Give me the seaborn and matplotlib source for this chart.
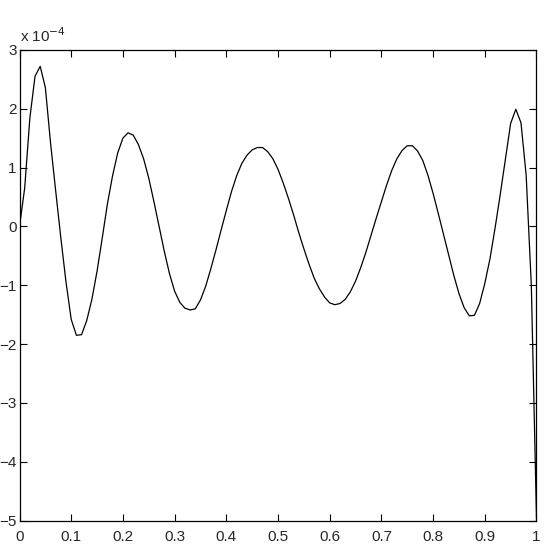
import numpy as np
import pandas as pd
import matplotlib
matplotlib.use("Agg")
import matplotlib.pyplot as plt
import seaborn as sns

# error curve, y in units of 1e-4
x_vals = [round(0.01 * i, 2) for i in range(101)]
err_vals = [
    0.00, 0.65, 1.84, 2.55, 2.72, 2.36, 1.42, 0.60, -0.20, -0.95,
    -1.58, -1.85, -1.84, -1.60, -1.24, -0.76, -0.20, 0.38, 0.86, 1.25,
    1.50, 1.59, 1.55, 1.39, 1.15, 0.82, 0.42, 0.00, -0.42, -0.80,
    -1.10, -1.29, -1.39, -1.42, -1.40, -1.25, -1.02, -0.72, -0.40, -0.06,
    0.27, 0.59, 0.86, 1.07, 1.21, 1.30, 1.34, 1.34, 1.27, 1.15,
    0.97, 0.74, 0.48, 0.20, -0.10, -0.38, -0.64, -0.88, -1.06, -1.20,
    -1.30, -1.33, -1.31, -1.24, -1.11, -0.93, -0.70, -0.44, -0.15, 0.14,
    0.42, 0.70, 0.95, 1.15, 1.29, 1.37, 1.37, 1.28, 1.12, 0.87,
    0.56, 0.22, -0.13, -0.48, -0.83, -1.14, -1.38, -1.52, -1.51, -1.31,
    -0.97, -0.55, -0.02, 0.55, 1.15, 1.75, 1.99, 1.76, 0.87, -1.00,
    -4.95,
]
x_ticks = [0, 0.1, 0.2, 0.3, 0.4, 0.5, 0.6, 0.7, 0.8, 0.9, 1]
x_ticklabels = ["0", "0.1", "0.2", "0.3", "0.4", "0.5", "0.6", "0.7", "0.8", "0.9", "1"]
y_ticks = [-5, -4, -3, -2, -1, 0, 1, 2, 3]

sns.set_style("ticks")
plt.rcParams['font.family'] = ['Liberation Sans', 'DejaVu Sans']
plt.rcParams['xtick.direction'] = 'in'
plt.rcParams['ytick.direction'] = 'in'

df = pd.DataFrame({'x': x_vals, 'err': err_vals})

fig = plt.figure(figsize=(5.45, 5.45), dpi=100)
ax = fig.add_axes([0.0358, 0.0446, 0.9486, 0.864])
sns.lineplot(data=df, x='x', y='err', color='black', linewidth=0.9, ax=ax)

ax.set_xlim(0, 1)
ax.set_ylim(-5, 3)
ax.set_xticks(x_ticks)
ax.set_xticklabels(x_ticklabels)
ax.set_yticks(y_ticks)
ax.set_xlabel('')
ax.set_ylabel('')
ax.tick_params(axis='both', which='both', labelsize=11, length=5, width=0.8,
               top=True, right=True, color='black')
ax.tick_params(axis='x', pad=7)
ax.tick_params(axis='y', pad=2)
for s in ax.spines.values():
    s.set_visible(True)
    s.set_linewidth(0.9)
    s.set_color('black')

ax.text(0.0, 1.01, r'x 10$^{-4}$', transform=ax.transAxes, fontsize=11,
        ha='left', va='bottom')

fig.savefig('out.png', dpi=100)
